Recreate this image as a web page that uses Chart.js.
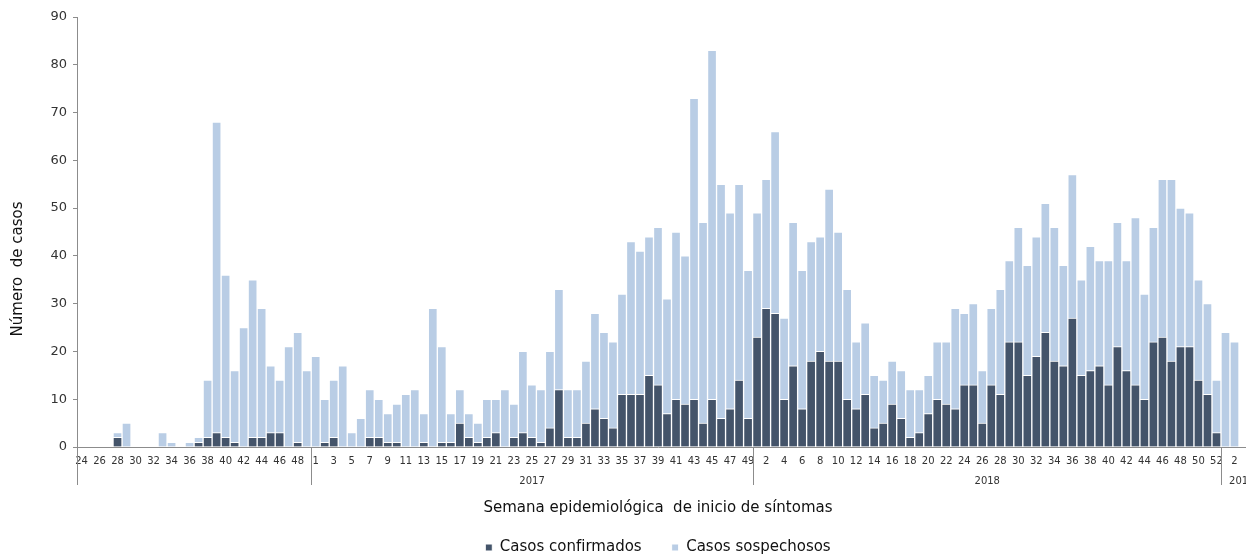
<!DOCTYPE html>
<html lang="es">
<head>
<meta charset="UTF-8">
<title>Casos por semana epidemiológica</title>
<script src="https://cdn.jsdelivr.net/npm/chart.js"></script>
<style>
  body { margin: 0; background: #fff; }
  .contenedor { width: 1246px; height: 556px; position: relative; overflow: hidden; }
</style>
</head>
<body>
<div class="contenedor"><canvas id="grafico"></canvas></div>
<script>
// semanas por año (tal como aparecen en el eje)
const semanas2016 = [24,25,26,27,28,29,30,31,32,33,34,35,36,37,38,39,40,41,42,43,44,45,46,47,48,49];
const semanas2017 = [1,2,3,4,5,6,7,8,9,10,11,12,13,14,15,16,17,18,19,20,21,22,23,24,25,26,27,28,29,30,31,32,33,34,35,36,37,38,39,40,41,42,43,44,45,46,47,48,49];
const semanas2018 = [1,2,3,4,5,6,7,8,9,10,11,12,13,14,15,16,17,18,19,20,21,22,23,24,25,26,27,28,29,30,31,32,33,34,35,36,37,38,39,40,41,42,43,44,45,46,47,48,49,50,51,52];
const semanas2019 = [1,2];
const anios = ['', '2017', '2018', '2019'];

const confirmados2016 = [0,0,0,0,2,0,0,0,0,0,0,0,0,1,2,3,2,1,0,2,2,3,3,0,1,0];
const sospechosos2016 = [0,0,0,0,1,5,0,0,0,3,1,0,1,1,12,65,34,15,25,33,27,14,11,21,23,16];

const confirmados2017 = [0,1,2,0,0,0,2,2,1,1,0,0,1,0,1,1,5,2,1,2,3,0,2,3,2,1,4,12,2,2,5,8,6,4,11,11,11,15,13,7,10,9,10,5,10,6,8,14,6];
const sospechosos2017 = [19,9,12,17,3,6,10,8,6,8,11,12,6,29,20,6,7,5,4,8,7,12,7,17,11,11,16,21,10,10,13,20,18,18,21,32,30,29,33,24,35,31,63,42,73,49,41,41,31];

const confirmados2018 = [23,29,28,10,17,8,18,20,18,18,10,8,11,4,5,9,6,2,3,7,10,9,8,13,13,5,13,11,22,22,15,19,24,18,17,27,15,16,17,13,21,16,13,10,22,23,18,21,21,14,11,3];
const sospechosos2018 = [26,27,38,17,30,29,25,24,36,27,23,14,15,11,9,9,10,10,9,8,12,13,21,15,17,11,16,22,17,24,23,25,27,28,21,30,20,26,22,26,26,23,35,22,24,33,38,29,28,21,19,11];

const confirmados2019 = [0,0];
const sospechosos2019 = [24,22];

const tramos = [semanas2016, semanas2017, semanas2018, semanas2019];
const semanas = [].concat(...tramos);
const confirmados = [].concat(confirmados2016, confirmados2017, confirmados2018, confirmados2019);
const sospechosos = [].concat(sospechosos2016, sospechosos2017, sospechosos2018, sospechosos2019);

const colorEje = '#8c8c8c';

// separadores de año, etiquetas de año y título del eje Y
const ejeAnios = {
  id: 'ejeAnios',
  afterDraw(chart) {
    const ctx = chart.ctx;
    const x = chart.scales.x;
    const area = chart.chartArea;
    const paso = x.getPixelForValue(1) - x.getPixelForValue(0);
    const borde = i => x.getPixelForValue(i) - paso / 2;

    ctx.save();
    ctx.strokeStyle = colorEje;
    ctx.lineWidth = 1;
    // prolongar la línea base hasta el borde
    ctx.beginPath();
    ctx.moveTo(area.right, area.bottom + 0.5);
    ctx.lineTo(chart.width, area.bottom + 0.5);
    ctx.stroke();

    let inicio = 0;
    tramos.forEach((t, k) => {
      const x0 = Math.round(borde(inicio)) + 0.5;
      ctx.beginPath();
      ctx.moveTo(x0, area.bottom);
      ctx.lineTo(x0, area.bottom + 38);
      ctx.stroke();
      const fin = k === tramos.length - 1 ? chart.width + 16 : borde(inicio + t.length);
      if (anios[k]) {
        ctx.fillStyle = '#333';
        ctx.font = '10px "DejaVu Sans"';
        ctx.textAlign = 'center';
        ctx.textBaseline = 'middle';
        ctx.fillText(anios[k], (x0 + fin) / 2, area.bottom + 34);
      }
      inicio += t.length;
    });

    ctx.translate(18, (area.top + area.bottom) / 2 + 37);
    ctx.rotate(-Math.PI / 2);
    ctx.fillStyle = '#111';
    ctx.font = '15px "DejaVu Sans"';
    ctx.textAlign = 'center';
    ctx.textBaseline = 'middle';
    ctx.fillText('Número  de casos', 0, 0);
    ctx.restore();
  }
};

Chart.defaults.font.family = '"DejaVu Sans", Verdana, sans-serif';
Chart.defaults.color = '#333';

new Chart(document.getElementById('grafico'), {
  type: 'bar',
  data: {
    labels: semanas,
    datasets: [
      {
        label: 'Casos confirmados',
        data: confirmados,
        backgroundColor: '#44546a',
        borderColor: '#ffffff',
        borderWidth: 1,
        barPercentage: 1,
        categoryPercentage: 1
      },
      {
        label: 'Casos sospechosos',
        data: sospechosos,
        backgroundColor: '#b9cde5',
        borderColor: '#ffffff',
        borderWidth: 1,
        barPercentage: 1,
        categoryPercentage: 1
      }
    ]
  },
  options: {
    responsive: true,
    maintainAspectRatio: false,
    animation: false,
    layout: { padding: { top: 17, right: 7, bottom: 0, left: 0 } },
    plugins: {
      tooltip: { enabled: false },
      legend: {
        position: 'bottom',
        fullSize: false,
        maxHeight: 46,
        labels: {
          boxWidth: 7,
          boxHeight: 7,
          padding: 30,
          color: '#111',
          font: { size: 15 }
        }
      }
    },
    scales: {
      x: {
        stacked: true,
        grid: { display: false, drawTicks: false },
        border: { display: true, color: colorEje },
        ticks: {
          autoSkip: false,
          maxRotation: 0,
          minRotation: 0,
          padding: 8,
          font: { size: 10 },
          callback(v, i) { return i % 2 === 0 ? this.getLabelForValue(v) : ''; }
        },
        title: {
          display: true,
          text: 'Semana epidemiológica  de inicio de síntomas',
          color: '#111',
          font: { size: 15 },
          padding: { top: 0, bottom: -7 }
        },
        afterFit(s) { s.height = 63; }
      },
      y: {
        stacked: true,
        min: 0,
        max: 90,
        grid: { drawOnChartArea: false, drawTicks: true, tickLength: 4, color: colorEje },
        border: { display: true, color: colorEje },
        ticks: { stepSize: 10, padding: 6, font: { size: 13 } },
        afterFit(s) { s.width = 77; }
      }
    }
  },
  plugins: [ejeAnios]
});
</script>
</body>
</html>
